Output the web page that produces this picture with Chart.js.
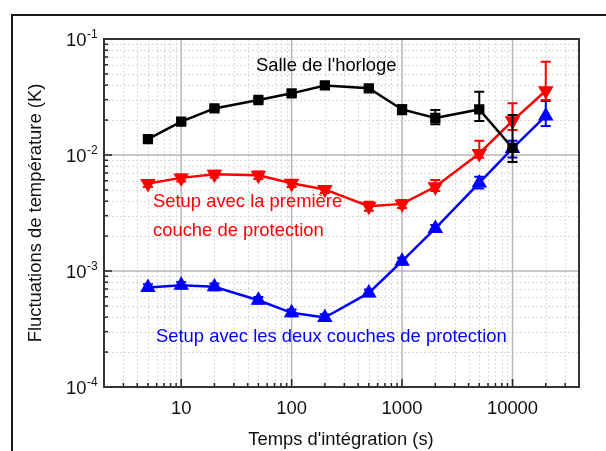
<!DOCTYPE html>
<html>
<head>
<meta charset="utf-8">
<script src="https://cdn.jsdelivr.net/npm/chart.js@4/dist/chart.umd.min.js"></script>
<style>
  html, body { margin: 0; padding: 0; background: #fff; }
  #wrap { width: 606px; height: 451px; position: relative; }
</style>
</head>
<body>
<div id="wrap"><canvas id="c" width="606" height="451"></canvas></div>
<script>
// Integration times (s)
const times = [5, 10, 20, 50, 100, 200, 500, 1000, 2000, 5000, 10000, 20000];

// Temperature fluctuations (K) and error bar bounds
const salle     = [0.0137, 0.0194, 0.0252, 0.0298, 0.0340, 0.0398, 0.0376, 0.0247, 0.0209, 0.0247, 0.0115];
const salleLow  = [0.0131, 0.0186, 0.0243, 0.0288, 0.0329, 0.0385, 0.0360, 0.0225, 0.0184, 0.0196, 0.0087];
const salleHigh = [0.0143, 0.0202, 0.0261, 0.0308, 0.0351, 0.0411, 0.0392, 0.0269, 0.0244, 0.0351, 0.0221];

const premiere     = [0.00569, 0.00635, 0.00684, 0.00670, 0.00570, 0.00505, 0.00362, 0.00379, 0.00532, 0.0103, 0.0197, 0.0358];
const premiereLow  = [0.00530, 0.00590, 0.00640, 0.00620, 0.00530, 0.00470, 0.00330, 0.00350, 0.00490, 0.00946, 0.0164, 0.0298];
const premiereHigh = [0.00610, 0.00680, 0.00730, 0.00720, 0.00610, 0.00540, 0.00395, 0.00410, 0.00610, 0.01327, 0.0279, 0.0637];

const deux     = [0.000721, 0.000754, 0.000730, 0.000560, 0.000436, 0.000397, 0.000647, 0.001216, 0.00233, 0.00575, 0.0114, 0.0217];
const deuxLow  = [0.000675, 0.000705, 0.000683, 0.000524, 0.000408, 0.000371, 0.000605, 0.001137, 0.00218, 0.00515, 0.00953, 0.01775];
const deuxHigh = [0.000770, 0.000805, 0.000780, 0.000598, 0.000466, 0.000424, 0.000692, 0.001300, 0.00249, 0.00649, 0.0133, 0.0292];

// Axis ticks
const xTickLabels = [10, 100, 1000, 10000];
const yTickLabels = [1e-4, 1e-3, 1e-2, 1e-1];
const xRange = [2, 40000];
const yRange = [1e-4, 1e-1];

const FONT = '"Liberation Sans", Arial, Helvetica, sans-serif';

function pts(xs, ys, lo, hi) {
  return ys.map((y, i) => ({ x: xs[i], y: y, lo: lo[i], hi: hi[i] }));
}

function minorValues(min, max) {
  const out = [];
  let d = Math.pow(10, Math.floor(Math.log10(min)));
  while (d <= max) {
    for (let m = 1; m <= 9; m++) {
      const v = m * d;
      if (v >= min * 0.999 && v <= max * 1.001) out.push({ v: v, major: m === 1 });
    }
    d *= 10;
  }
  return out;
}

// Frame, grid, axis box, inward ticks, y labels with exponents, axis titles
const decorPlugin = {
  id: 'decor',
  beforeDraw(chart) {
    const ctx = chart.ctx;
    ctx.save();
    ctx.strokeStyle = '#1a1a1a';
    ctx.lineWidth = 2;
    ctx.strokeRect(12, 15, 800, 600);
    ctx.restore();
  },
  beforeDatasetsDraw(chart) {
    const { ctx, chartArea: a, scales: { x, y } } = chart;
    ctx.save();
    // minor grid
    ctx.lineWidth = 1;
    ctx.strokeStyle = '#d9d9d9';
    ctx.setLineDash([2, 2]);
    minorValues(xRange[0], xRange[1]).forEach(t => {
      if (t.major) return;
      const px = Math.round(x.getPixelForValue(t.v)) + 0.5;
      ctx.beginPath(); ctx.moveTo(px, a.top); ctx.lineTo(px, a.bottom); ctx.stroke();
    });
    minorValues(yRange[0], yRange[1]).forEach(t => {
      if (t.major) return;
      const py = Math.round(y.getPixelForValue(t.v)) + 0.5;
      ctx.beginPath(); ctx.moveTo(a.left, py); ctx.lineTo(a.right, py); ctx.stroke();
    });
    // major grid
    ctx.setLineDash([]);
    ctx.strokeStyle = '#bdb5b5';
    ctx.lineWidth = 1.5;
    xTickLabels.forEach(v => {
      const px = x.getPixelForValue(v);
      ctx.beginPath(); ctx.moveTo(px, a.top); ctx.lineTo(px, a.bottom); ctx.stroke();
    });
    yTickLabels.forEach(v => {
      const py = y.getPixelForValue(v);
      ctx.beginPath(); ctx.moveTo(a.left, py); ctx.lineTo(a.right, py); ctx.stroke();
    });
    ctx.restore();
  },
  afterDatasetsDraw(chart) {
    const { ctx, chartArea: a, scales: { x, y } } = chart;
    ctx.save();
    // inward ticks
    ctx.strokeStyle = '#222';
    ctx.lineWidth = 1.5;
    minorValues(xRange[0], xRange[1]).forEach(t => {
      const px = x.getPixelForValue(t.v);
      const len = t.major ? 8 : 4;
      ctx.beginPath(); ctx.moveTo(px, a.bottom); ctx.lineTo(px, a.bottom - len); ctx.stroke();
    });
    minorValues(yRange[0], yRange[1]).forEach(t => {
      const py = y.getPixelForValue(t.v);
      const len = t.major ? 8 : 4;
      ctx.beginPath(); ctx.moveTo(a.left, py); ctx.lineTo(a.left + len, py); ctx.stroke();
    });
    // axis box
    ctx.strokeStyle = '#333';
    ctx.lineWidth = 2;
    ctx.strokeRect(a.left, a.top, a.right - a.left, a.bottom - a.top);

    // y tick labels as 10 with a raised exponent
    ctx.fillStyle = '#111';
    yTickLabels.forEach(v => {
      const py = y.getPixelForValue(v);
      const e = Math.round(Math.log10(v));
      ctx.font = '18.4px ' + FONT;
      ctx.textAlign = 'right';
      ctx.textBaseline = 'alphabetic';
      ctx.fillText('10', 86.5, py + 7);
      ctx.font = '12px ' + FONT;
      ctx.textAlign = 'left';
      ctx.fillText(String(e), 87, py - 1);
    });

    // axis titles
    ctx.font = '18.4px ' + FONT;
    ctx.fillStyle = '#111';
    ctx.textAlign = 'center';
    ctx.textBaseline = 'alphabetic';
    ctx.fillText("Temps d'intégration (s)", 341, 445);
    ctx.save();
    ctx.translate(41, 213);
    ctx.rotate(-Math.PI / 2);
    ctx.fillText('Fluctuations de température (K)', 0, 0);
    ctx.restore();

    // series labels
    ctx.textAlign = 'left';
    ctx.fillStyle = '#000000';
    ctx.fillText("Salle de l'horloge", 256, 71);
    ctx.fillStyle = '#ff0000';
    ctx.fillText('Setup avec la première', 153, 207);
    ctx.fillText('couche de protection', 153, 236);
    ctx.fillStyle = '#0000ff';
    ctx.fillText('Setup avec les deux couches de protection', 156, 342);
    ctx.restore();
  }
};

// Vertical error bars with caps, drawn from each point's lo/hi values
const errorBarPlugin = {
  id: 'errorBars',
  afterDatasetDraw(chart, args) {
    const ds = chart.data.datasets[args.index];
    const { ctx, scales: { x, y } } = chart;
    ctx.save();
    ctx.strokeStyle = ds.borderColor;
    ctx.lineWidth = 2;
    ds.data.forEach(p => {
      const px = x.getPixelForValue(p.x);
      const yl = y.getPixelForValue(p.lo);
      const yh = y.getPixelForValue(p.hi);
      ctx.beginPath();
      ctx.moveTo(px, yl); ctx.lineTo(px, yh);
      ctx.moveTo(px - 5, yl); ctx.lineTo(px + 5, yl);
      ctx.moveTo(px - 5, yh); ctx.lineTo(px + 5, yh);
      ctx.stroke();
    });
    ctx.restore();
  }
};

new Chart(document.getElementById('c'), {
  type: 'line',
  data: {
    datasets: [
      {
        label: "Salle de l'horloge",
        data: pts(times, salle, salleLow, salleHigh),
        borderColor: '#000000', backgroundColor: '#000000',
        borderWidth: 2.5, pointStyle: 'rect', pointRadius: 5.5, pointHoverRadius: 5.5
      },
      {
        label: 'Setup avec la première couche de protection',
        data: pts(times, premiere, premiereLow, premiereHigh),
        borderColor: '#ff0000', backgroundColor: '#ff0000',
        borderWidth: 2.5, pointStyle: 'triangle', pointRotation: 180, pointRadius: 6.5, pointHoverRadius: 6.5
      },
      {
        label: 'Setup avec les deux couches de protection',
        data: pts(times, deux, deuxLow, deuxHigh),
        borderColor: '#0000ff', backgroundColor: '#0000ff',
        borderWidth: 2.5, pointStyle: 'triangle', pointRadius: 6.5, pointHoverRadius: 6.5
      }
    ]
  },
  options: {
    responsive: false,
    animation: false,
    events: [],
    layout: { padding: { left: 0, right: 27, top: 39, bottom: 0 } },
    plugins: { legend: { display: false }, tooltip: { enabled: false } },
    scales: {
      x: {
        type: 'logarithmic',
        min: xRange[0], max: xRange[1],
        grid: { display: false, drawTicks: false },
        border: { display: false },
        afterBuildTicks: s => { s.ticks = xTickLabels.map(v => ({ value: v })); },
        afterFit: s => { s.height = 64; },
        ticks: {
          autoSkip: false, maxRotation: 0, padding: 11,
          color: '#111', font: { family: FONT, size: 18.4 },
          callback: v => String(v)
        }
      },
      y: {
        type: 'logarithmic',
        min: yRange[0], max: yRange[1],
        grid: { display: false, drawTicks: false },
        border: { display: false },
        ticks: { display: false },
        afterFit: s => { s.width = 104; }
      }
    }
  },
  plugins: [decorPlugin, errorBarPlugin]
});
</script>
</body>
</html>
